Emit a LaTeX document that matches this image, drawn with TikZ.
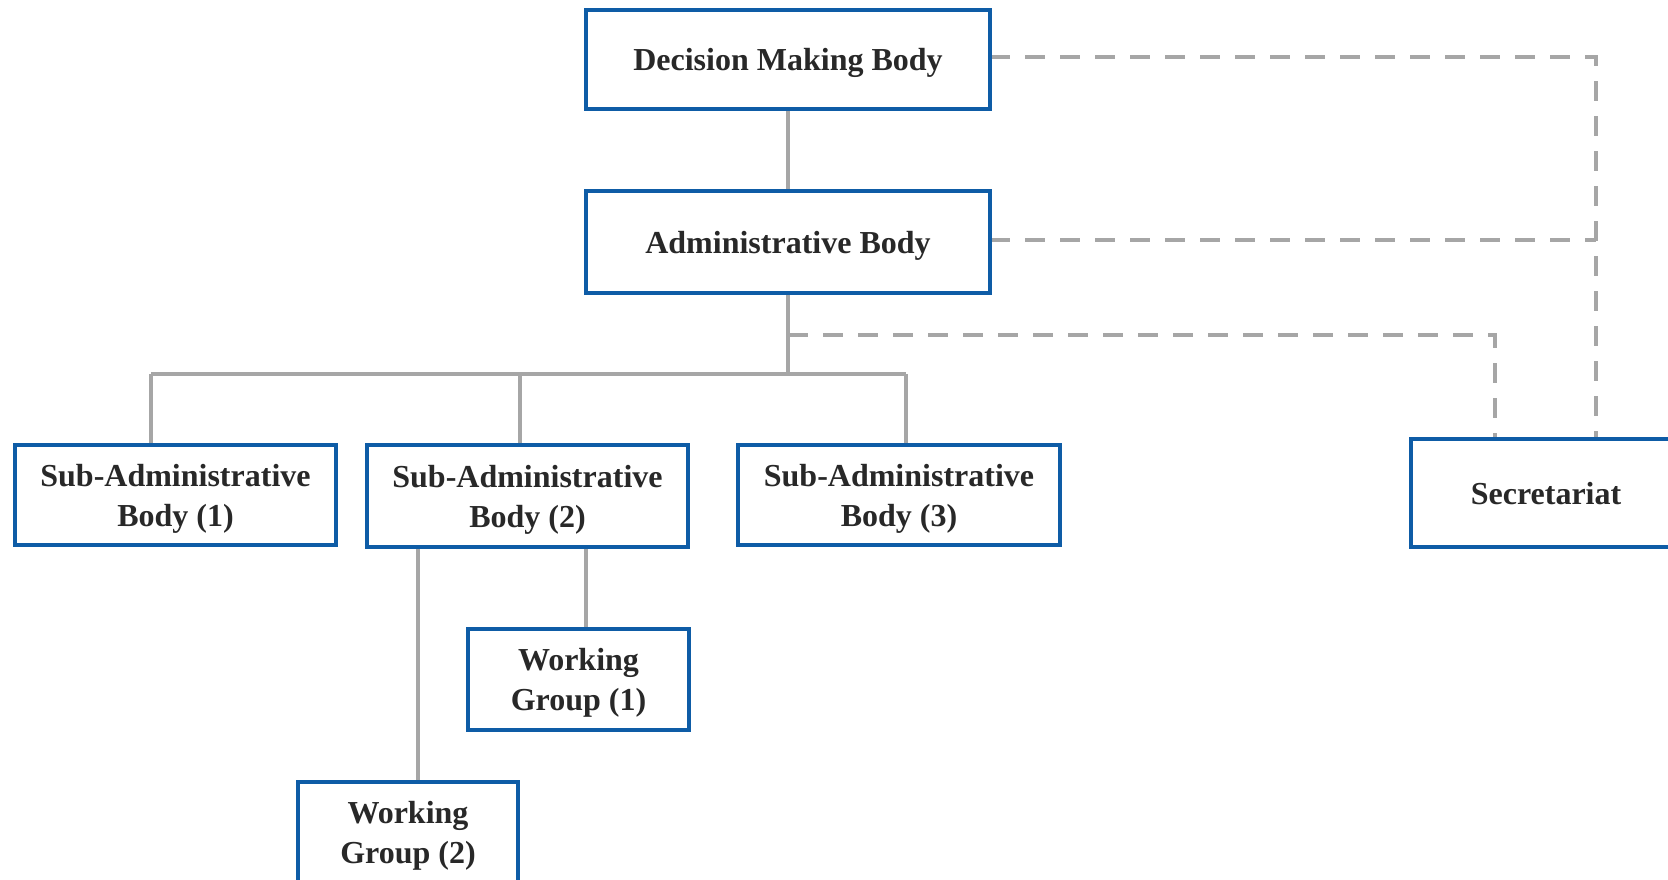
\documentclass[tikz,border=0pt]{standalone}
\usepackage{fontspec}
\setmainfont{Liberation Serif}
\usetikzlibrary{calc}
\definecolor{boxblue}{RGB}{14,92,166}
\definecolor{linegray}{RGB}{166,166,166}
\definecolor{textdark}{RGB}{40,40,40}
\tikzset{
  orgbox/.style={draw=boxblue, line width=2pt, fill=white, align=center,
    inner sep=0pt, outer sep=0pt, text=textdark, text depth=0pt,
    font=\fontsize{16}{20}\selectfont\bfseries},
  link/.style={draw=linegray, line width=1.6pt},
  dashlink/.style={draw=linegray, line width=1.8pt, dash pattern=on 10pt off 7.5pt}
}
\begin{document}
\begin{tikzpicture}[x=0.5pt,y=-0.5pt]
\useasboundingbox (0,0) rectangle (1668,879);

% junction points
\coordinate (bar) at (788,374);
\coordinate (j1) at (151,374);
\coordinate (j2) at (520,374);
\coordinate (j3) at (906,374);
\coordinate (d0) at (788,335);
\coordinate (d1) at (1495,335);
\coordinate (r1) at (1596,57);
\coordinate (r2) at (1596,240);
\coordinate (w1) at (586,547);
\coordinate (w2) at (418,547);

% boxes
\node[orgbox, minimum width=202pt, minimum height=49.5pt] (dmb) at (788,59) {Decision Making Body};
\node[orgbox, minimum width=202pt, minimum height=51pt] (ab) at (788,242) {Administrative Body};
\node[orgbox, minimum width=160.5pt, minimum height=50pt] (sub1) at (175.5,495) {Sub-Administrative\\Body (1)};
\node[orgbox, minimum width=160.5pt, minimum height=51pt] (sub2) at (527.5,496) {Sub-Administrative\\Body (2)};
\node[orgbox, minimum width=161pt, minimum height=50pt] (sub3) at (899,495) {Sub-Administrative\\Body (3)};
\node[orgbox, minimum width=135pt, minimum height=54pt] (sec) at (1546,493) {Secretariat};
\node[orgbox, minimum width=110.5pt, minimum height=50.5pt] (wg1) at (578.5,679.5) {Working\\Group (1)};
\node[orgbox, minimum width=110pt, minimum height=50.5pt] (wg2) at (408,832.5) {Working\\Group (2)};

% solid hierarchy
\draw[link] (dmb.south) -- (ab.north);
\draw[link] (ab.south) -- (bar);
\draw[link] (j1) -- (j3);
\draw[link] (j1) -- (j1 |- sub1.north);
\draw[link] (j2) -- (j2 |- sub2.north);
\draw[link] (j3) -- (j3 |- sub3.north);
\draw[link] (w1) -- (w1 |- wg1.north);
\draw[link] (w2) -- (w2 |- wg2.north);

% dashed links to the secretariat
\draw[dashlink] (d0) -- (d1) -- (d1 |- sec.north);
\draw[dashlink] (dmb.east |- r1) -- (r1) -- (r1 |- sec.north);
\draw[dashlink] (ab.east |- r2) -- (r2);

% box frames drawn again over the line ends
\foreach \b in {dmb,ab,sub1,sub2,sub3,sec,wg1,wg2}
  \draw[boxblue, line width=2pt] (\b.south west) rectangle (\b.north east);
\end{tikzpicture}
\end{document}
